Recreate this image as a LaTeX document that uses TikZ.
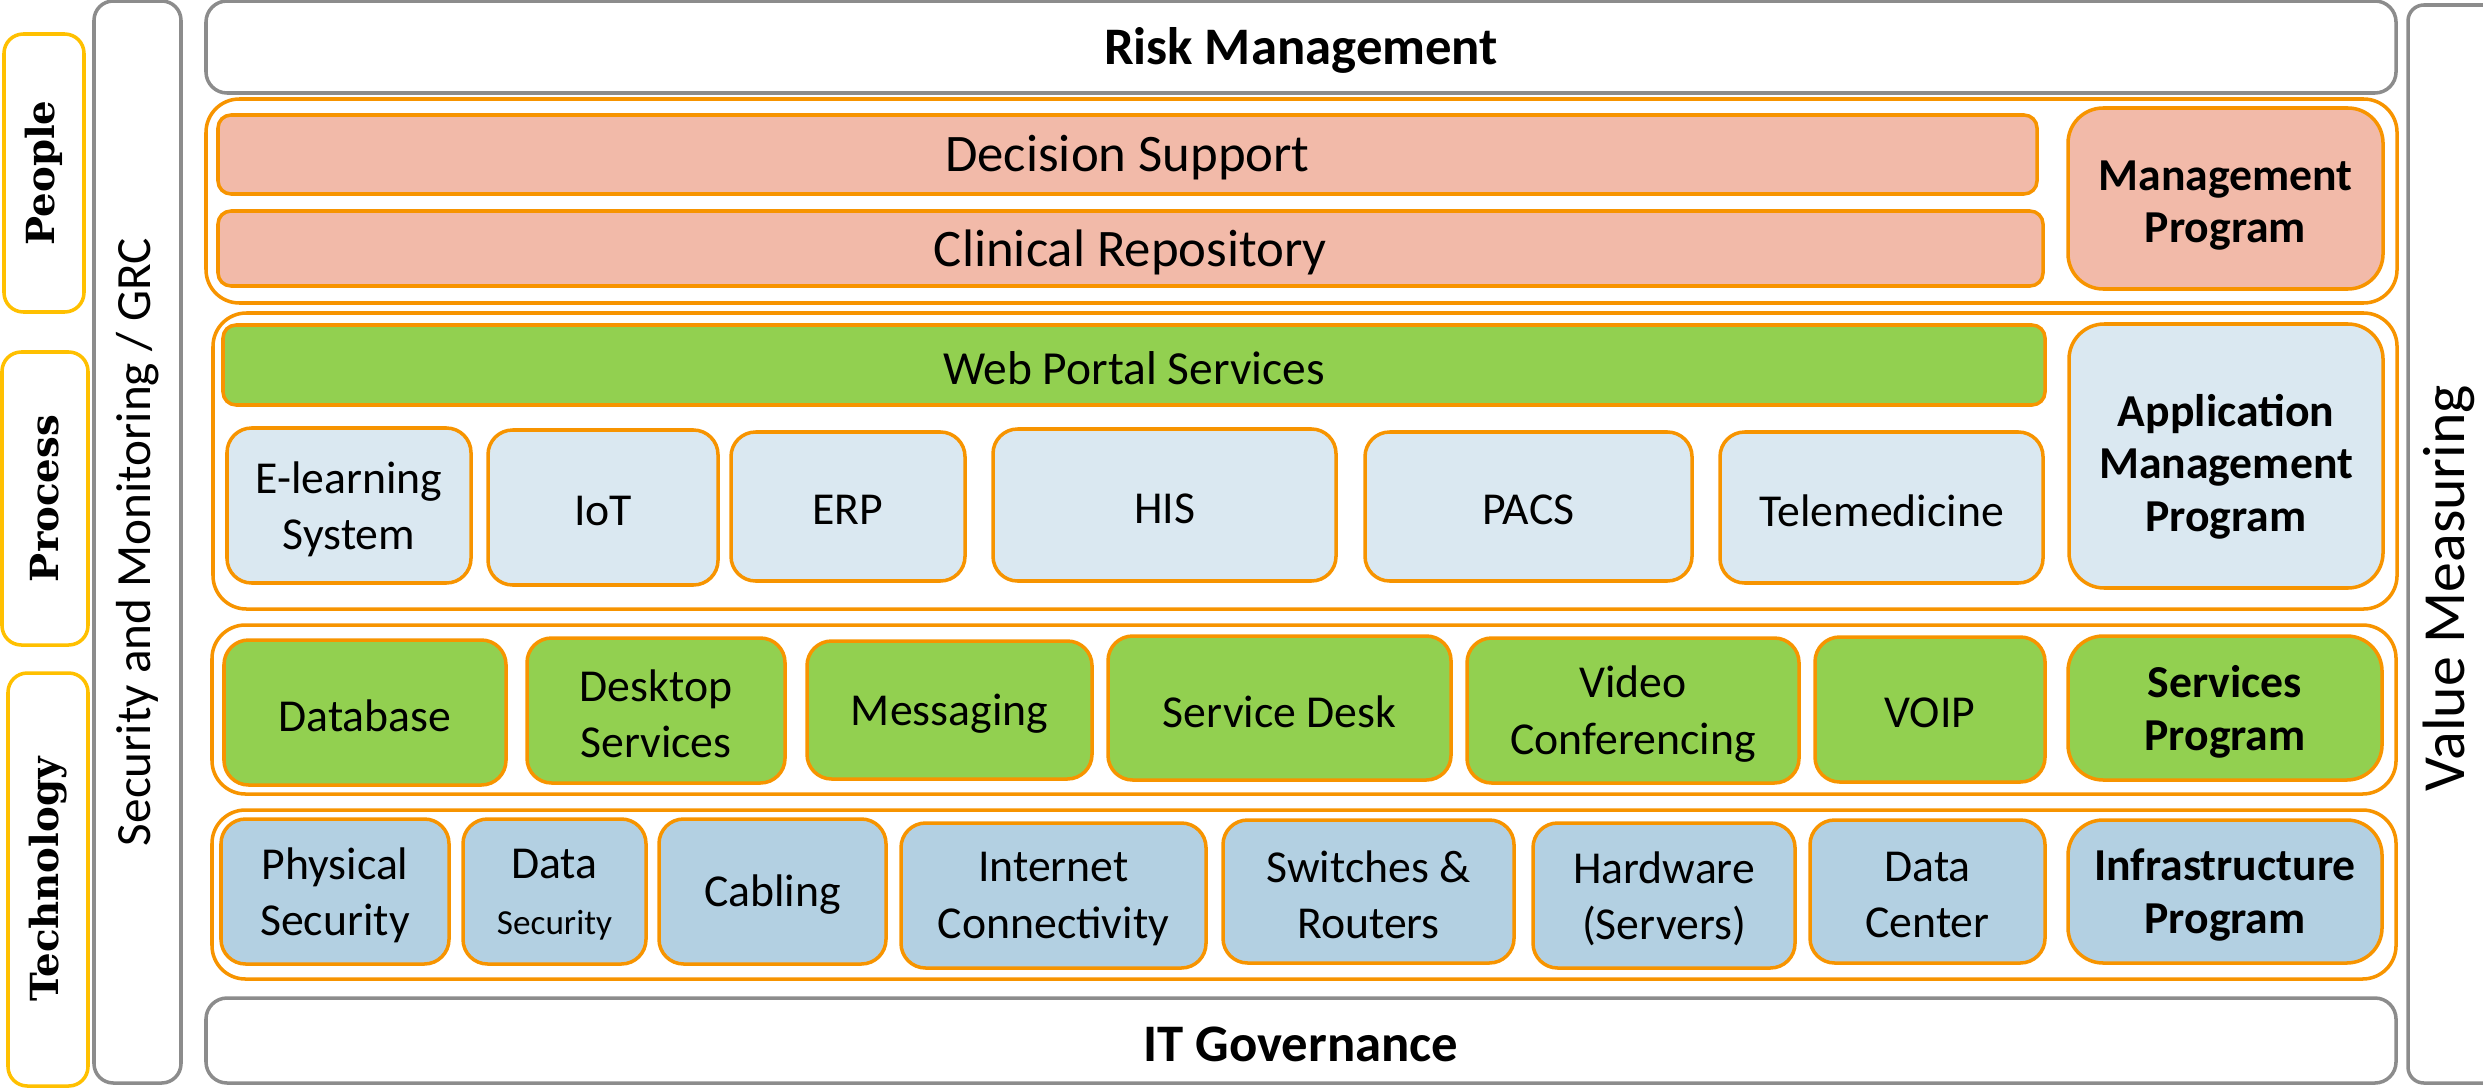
\documentclass[tikz,border=0pt]{standalone}
\usepackage{fontspec}
\setmainfont{Carlito}
\newfontfamily\slabfont{DejaVu Serif}
\usetikzlibrary{fit}

\definecolor{rimorange}{RGB}{247,148,0}
\definecolor{rimgray}{RGB}{140,140,140}
\definecolor{rimyellow}{RGB}{255,192,0}
\definecolor{salmon}{RGB}{242,186,169}
\definecolor{leafgreen}{RGB}{146,208,80}
\definecolor{paleblue}{RGB}{218,232,241}
\definecolor{steelblue}{RGB}{179,208,226}

% box from two corners, text set at its centre
\newcommand{\blk}[6][yshift=-1pt]{%
    \node[#2, fit={#4 #5}] (#3) {};
    \node[#2, draw=none, fill=none, align=center, #1] at (#3.center) {#6};
}

\tikzset{
    band/.style = {draw=rimgray, line width=1pt, rounded corners=6pt, inner sep=0pt,
                   font=\fontsize{15}{18}\selectfont\bfseries},
    layer/.style = {draw=rimorange, line width=1pt, rounded corners=9.5pt, inner sep=0pt},
    tile/.style = {draw=rimorange, line width=1pt, rounded corners=7pt, inner sep=0pt,
                   font=\fontsize{13}{16}\selectfont},
    bar/.style = {tile, rounded corners=3.7pt, font=\fontsize{15}{18}\selectfont},
    prog/.style = {tile, rounded corners=10pt, font=\fontsize{13}{15}\selectfont\bfseries},
    pillar/.style = {draw=rimyellow, line width=1pt, rounded corners=5.5pt, inner sep=0pt},
    pillartext/.style = {rotate=90, font=\slabfont\fontsize{11}{13}\selectfont\bfseries},
    sidetext/.style = {rotate=90, font=\fontsize{14}{17}\selectfont}
}

\begin{document}
\begin{tikzpicture}[x=0.01cm, y=-0.01cm]
    \useasboundingbox (0,0) rectangle (2483,1088);
    \clip (0,0) rectangle (2483,1088);

    % left pillars
    \node[pillar, fit={(4,34) (84,312)}] (people) {};
    \node[pillartext] at (people) {People};
    \node[pillar, fit={(2,352) (88,645)}] (process) {};
    \node[pillartext] at (process) {Process};
    \node[pillar, fit={(8,673) (88,1086)}] (technology) {};
    \node[pillartext] at (technology) {Technology};

    % side bands
    \node[band, rounded corners=5.5pt, fit={(94,1) (181,1083)}] (security) {};
    \node[sidetext] at (security) {Security and Monitoring / GRC};
    \node[band, rounded corners=4.5pt, fit={(2408,5) (2540,1083)}] (value) {};
    \node[sidetext, font=\fontsize{17}{20}\selectfont] at (2449,588) (valuetext) {Value Measuring};

    % top and bottom bands
    \blk{band}{risk}{(206,1)}{(2396,93)}{Risk Management}
    \blk{band}{governance}{(206,998)}{(2396,1083)}{IT Governance}

    % management layer
    \node[layer, fit={(206,99) (2397,303)}] (mgmtlayer) {};
    \blk{bar, fill=salmon}{decision}{(218,115)}{(2037,194)}{Decision Support}
    \blk{bar, fill=salmon}{clinical}{(218,211)}{(2043,286)}{Clinical Repository}
    \blk[yshift=-2pt]{prog, fill=salmon}{mgmtprog}{(2068,108)}{(2383,289)}{Management\\Program}

    % application layer
    \node[layer, fit={(213,313) (2397,609)}] (applayer) {};
    \blk{bar, fill=leafgreen, font=\fontsize{13.5}{16}\selectfont}{webportal}{(223,325)}{(2045,405)}{Web Portal Services}
    \blk[yshift=-3pt]{prog, fill=paleblue}{appprog}{(2069,324)}{(2383,588)}{Application\\Management\\Program}
    \blk{tile, fill=paleblue}{elearning}{(227,428)}{(471,583)}{E-learning\\System}
    \blk{tile, fill=paleblue}{iot}{(488,430)}{(718,585)}{IoT}
    \blk{tile, fill=paleblue}{erp}{(731,432)}{(965,581)}{ERP}
    \blk{tile, fill=paleblue}{his}{(993,429)}{(1336,581)}{HIS}
    \blk{tile, fill=paleblue}{pacs}{(1365,432)}{(1692,581)}{PACS}
    \blk{tile, fill=paleblue}{telemedicine}{(1720,432)}{(2043,583)}{Telemedicine}

    % services layer
    \node[layer, fit={(212,625) (2396,794)}] (svclayer) {};
    \blk{tile, fill=leafgreen}{database}{(224,640)}{(506,785)}{Database}
    \blk{tile, fill=leafgreen}{desktop}{(527,638)}{(785,783)}{Desktop\\Services}
    \blk{tile, fill=leafgreen}{messaging}{(807,641)}{(1092,779)}{Messaging}
    \blk{tile, fill=leafgreen}{servicedesk}{(1108,636)}{(1451,780)}{Service Desk}
    \blk{tile, fill=leafgreen}{video}{(1467,638)}{(1799,783)}{Video\\Conferencing}
    \blk{tile, fill=leafgreen}{voip}{(1815,637)}{(2045,782)}{VOIP}
    \blk{prog, fill=leafgreen}{svcprog}{(2068,636)}{(2382,780)}{Services\\Program}

    % infrastructure layer
    \node[layer, fit={(212,810) (2396,979)}] (infralayer) {};
    \blk{tile, fill=steelblue}{physical}{(221,819)}{(449,964)}{Physical\\Security}
    \blk{tile, fill=steelblue}{datasec}{(463,819)}{(646,964)}{Data\\{\fontsize{10}{12}\selectfont Security}}
    \blk{tile, fill=steelblue}{cabling}{(659,819)}{(886,964)}{Cabling}
    \blk{tile, fill=steelblue}{internet}{(901,823)}{(1206,968)}{Internet\\Connectivity}
    \blk{tile, fill=steelblue}{switches}{(1223,820)}{(1514,963)}{Switches \&\\Routers}
    \blk{tile, fill=steelblue}{hardware}{(1533,823)}{(1795,968)}{Hardware\\(Servers)}
    \blk{tile, fill=steelblue}{datacenter}{(1810,820)}{(2045,963)}{Data\\Center}
    \blk{prog, fill=steelblue}{infraprog}{(2068,820)}{(2382,963)}{Infrastructure\\Program}
\end{tikzpicture}
\end{document}
